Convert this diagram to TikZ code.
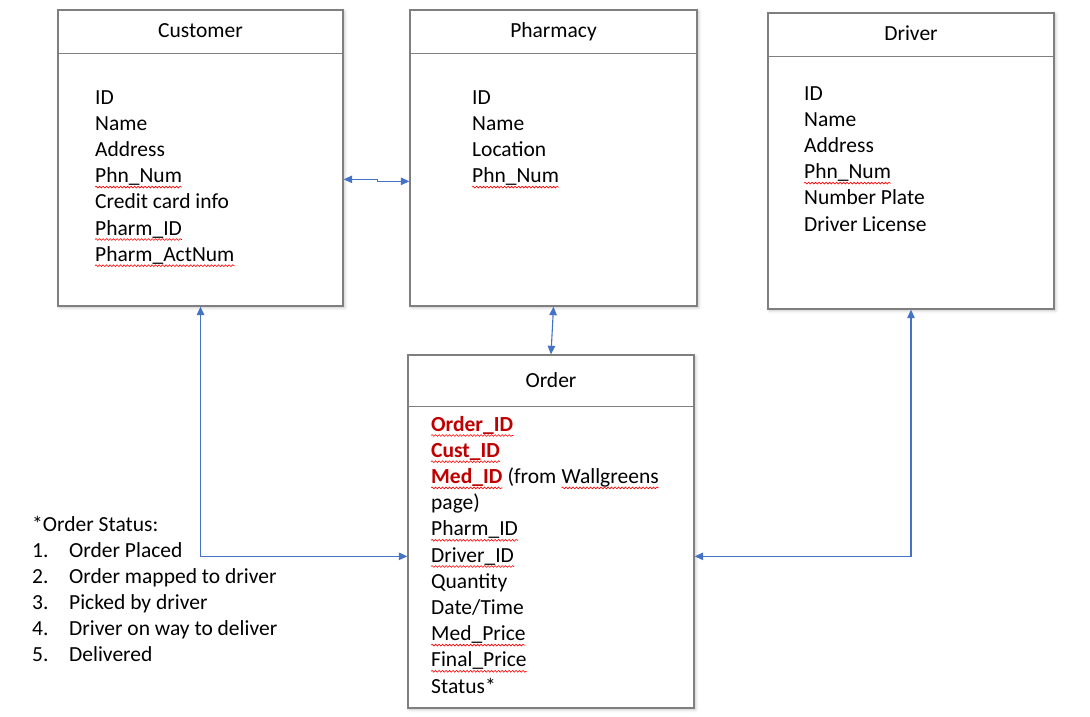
\documentclass[tikz,border=0pt]{standalone}
\usepackage{fontspec}
\setmainfont{Carlito}
\usetikzlibrary{arrows.meta,shadows.blur,decorations.pathmorphing}
\definecolor{lnk}{HTML}{4472C4}
\definecolor{dred}{HTML}{C00000}
\definecolor{bgray}{HTML}{7F7F7F}
\tikzset{
  box/.style={draw=bgray, line width=1.3pt, fill=white, inner sep=0pt,
    blur shadow={shadow xshift=1.5pt, shadow yshift=-1.5pt, shadow blur radius=3pt, shadow opacity=25}},
  hdr/.style={draw=bgray, line width=1.3pt},
  ttl/.style={anchor=base, inner sep=0pt, font=\fontsize{21.5}{26}\selectfont},
  fld/.style={anchor=base west, inner sep=0pt, font=\fontsize{21.5}{26}\selectfont},
  key/.style={fld, font=\fontsize{21.5}{26}\selectfont\bfseries, text=dred},
  conn/.style={draw=lnk, line width=1.1pt, {Triangle[length=8.5pt,width=7.5pt]}-{Triangle[length=8.5pt,width=7.5pt]}},
  wave/.style={draw=red, line width=0.6pt, decorate, decoration={snake, amplitude=0.9pt, segment length=3.5pt}}
}
\begin{document}
\begin{tikzpicture}[x=1pt,y=-1pt]
\useasboundingbox (0,0) rectangle (1090,717);
% boxes
\node[box, minimum width=285pt, minimum height=296pt] (cust) at (200.5,158) {};
\node[box, minimum width=287pt, minimum height=296pt] (pharm) at (553.5,158) {};
\node[box, minimum width=286pt, minimum height=296pt] (drv) at (911,161) {};
\node[box, minimum width=286pt, minimum height=353pt] (ord) at (551,531.5) {};
% header lines
\draw[hdr] ([yshift=-44pt]cust.north west) -- ([yshift=-44pt]cust.north east);
\draw[hdr] ([yshift=-44pt]pharm.north west) -- ([yshift=-44pt]pharm.north east);
\draw[hdr] ([yshift=-44pt]drv.north west) -- ([yshift=-44pt]drv.north east);
\draw[hdr] ([yshift=-52pt]ord.north west) -- ([yshift=-52pt]ord.north east);
% titles
\node[ttl] (tcust) at ([yshift=-28pt]cust.north) {Customer};
\node[ttl] (tpharm) at ([yshift=-28pt]pharm.north) {Pharmacy};
\node[ttl] (tdrv) at ([yshift=-28pt]drv.north) {Driver};
\node[ttl] (tord) at ([yshift=-33pt]ord.north) {Order};
% customer fields
\foreach \t [count=\i from 0] in {ID,Name,Address,Phn\_Num,Credit card info,Pharm\_ID,Pharm\_ActNum}
  \node[fld] (cf\i) at (95,104+26.2*\i) {\t};
% pharmacy fields
\foreach \t [count=\i from 0] in {ID,Name,Location,Phn\_Num}
  \node[fld] (pf\i) at (472,104+26.2*\i) {\t};
% driver fields
\foreach \t [count=\i from 0] in {ID,Name,Address,Phn\_Num,Number Plate,Driver License}
  \node[fld] (df\i) at (804,100+26.2*\i) {\t};
% order fields
\node[key] (of0) at (431,431) {Order\_ID};
\node[key] (of1) at (431,457.2) {Cust\_ID};
\node[key] (of2a) at (431,483.4) {Med\_ID};
\node[fld] (of2b) at ([xshift=4.9pt]of2a.base east) {(from};
\node[fld] (of2c) at ([xshift=4.9pt]of2b.base east) {Wallgreens};
\foreach \t [count=\i from 3] in {page),Pharm\_ID,Driver\_ID,Quantity,Date/Time,Med\_Price,Final\_Price,Status*}
  \node[fld] (of\i) at (431,431+26.2*\i) {\t};
% spell-check marks
\foreach \n in {cf3,cf5,cf6,pf3,df3,of0,of1,of2a,of2c,of4,of5,of8,of9}
  \draw[wave] ([yshift=-4.5pt]\n.base west) -- ([yshift=-4.5pt]\n.base east);
% status list
\node[fld] (st0) at (32,531) {*Order Status:};
\foreach \t [count=\i] in {Order Placed,Order mapped to driver,Picked by driver,Driver on way to deliver,Delivered}{
  \node[fld] (sn\i) at (32,531+26*\i) {\i.};
  \node[fld] (st\i) at (69,531+26*\i) {\t};
}
% connectors
\draw[conn] ([yshift=-170pt]cust.north east) -- ++(34,0) -- ++(0,2) -- ([yshift=-172pt]pharm.north west);
\draw[conn] (pharm.south) -- (ord.north);
\draw[conn] (cust.south) |- ([yshift=-202pt]ord.north west);
\draw[conn] (drv.south) |- ([yshift=-202pt]ord.north east);
\end{tikzpicture}
\end{document}
